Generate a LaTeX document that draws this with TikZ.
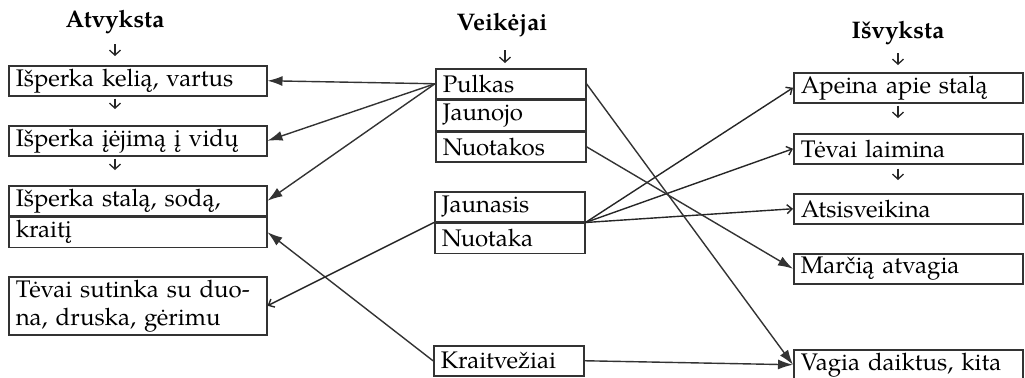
\documentclass[tikz,border=0pt]{standalone}
\usepackage{fontspec}
\setmainfont{TeX Gyre Pagella}
\usepackage{tikz}
\usetikzlibrary{positioning}
\usetikzlibrary{arrows.meta}

\tikzset{
	cell/.style={draw=black!80, line width=0.75pt, minimum height=15pt, inner xsep=3.5pt, inner ysep=0pt, text width=#1, align=left, font=\fontsize{12}{14}\selectfont},
	head/.style={inner sep=0pt, anchor=base, font=\bfseries\fontsize{12}{14}\selectfont},
	down/.style={draw=black!85, line width=0.65pt, -{Straight Barb[length=2.5pt,width=5.5pt]}},
	fillto/.style={draw=black!80, line width=0.7pt, -{Latex[length=7.5pt,width=5pt]}},
	opento/.style={draw=black!85, line width=0.7pt, -{Straight Barb[length=2.5pt,width=4.5pt]}}
}

\begin{document}
\begin{tikzpicture}[x=0.5pt,y=-0.5pt]
	\useasboundingbox (0,0) rectangle (1025,377);
	\clip (0,0) rectangle (1025,377);
	% titles
	\node[head] (atv) at (115,27) {Atvyksta};
	\node[head] (veik) at (502,30) {Veikėjai};
	\node[head] (isv) at (898,38) {Išvyksta};
	% left column
	\node[cell=122pt, anchor=north west] (kelias) at (8,65) {Išperka kelią, vartus};
	\node[cell=122pt, anchor=north west] (vidus) at (8,125) {Išperka įėjimą į vidų};
	\node[cell=122pt, anchor=north west] (stalas) at (8,185) {Išperka stalą, sodą,};
	\node[cell=122pt, below=0pt of stalas] (kraitis) {kraitį};
	\node[cell=122pt, anchor=north west, minimum height=29pt] (duona) at (8,276) {Tėvai sutinka su duo-\\na, druska, gėrimu};
	% middle column
	\node[cell=68pt, anchor=north west] (pulkas) at (435,68) {Pulkas};
	\node[cell=68pt, below=0pt of pulkas] (jaunojo) {Jaunojo};
	\node[cell=68pt, below=0pt of jaunojo] (nuotakos) {Nuotakos};
	\node[cell=68pt, anchor=north west] (jaunasis) at (434,191) {Jaunasis};
	\node[cell=68pt, below=0pt of jaunasis] (nuotaka) {Nuotaka};
	\node[cell=68pt, anchor=north west] (kraitv) at (433,345) {Kraitvežiai};
	% right column
	\node[cell=107.5pt, anchor=north west] (apeina) at (793,72) {Apeina apie stalą};
	\node[cell=107.5pt, anchor=north west] (laimina) at (793,133) {Tėvai laimina};
	\node[cell=107.5pt, anchor=north west] (atsis) at (793,193) {Atsisveikina};
	\node[cell=107.5pt, anchor=north west] (marcia) at (793,253) {Marčią atvagia};
	\node[cell=107.5pt, anchor=north west] (vagia) at (793,349) {Vagia daiktus, kita};

	% small arrows down
	\draw[down, shorten <=5.3pt, shorten >=4.5pt] (atv.south) -- (atv.south |- kelias.north);
	\draw[down, shorten <=1pt, shorten >=8pt] (atv.south |- kelias.south) -- (atv.south |- vidus.north);
	\draw[down, shorten <=1pt, shorten >=7.5pt] (atv.south |- vidus.south) -- (atv.south |- stalas.north);
	\draw[down, shorten <=6.8pt, shorten >=2.5pt] ([xshift=1.5pt]veik.south) -- ([xshift=1.5pt]veik.south |- pulkas.north);
	\draw[down, shorten <=4.3pt, shorten >=3.5pt] (isv.south) -- (isv.south |- apeina.north);
	\draw[down, shorten <=1pt, shorten >=7.5pt] (isv.south |- apeina.south) -- (isv.south |- laimina.north);
	\draw[down, shorten <=2pt, shorten >=6.5pt] (isv.south |- laimina.south) -- (isv.south |- atsis.north);

	% to the left
	\draw[fillto] (pulkas.west) -- (kelias.east);
	\draw[fillto] (pulkas.west) -- (vidus.east);
	\draw[fillto] (pulkas.west) -- (stalas.east);
	\draw[fillto] (kraitv.west) -- (kraitis.east);
	\draw[opento] (jaunasis.south west) -- (duona.east);
	% to the right
	\draw[opento] (jaunasis.south east) -- (apeina.west);
	\draw[opento] (jaunasis.south east) -- (laimina.west);
	\draw[opento] (jaunasis.south east) -- (atsis.west);
	\draw[fillto] (pulkas.east) -- (vagia.west);
	\draw[fillto] (nuotakos.east) -- (marcia.west);
	\draw[fillto] (kraitv.east) -- (vagia.west);
\end{tikzpicture}
\end{document}
